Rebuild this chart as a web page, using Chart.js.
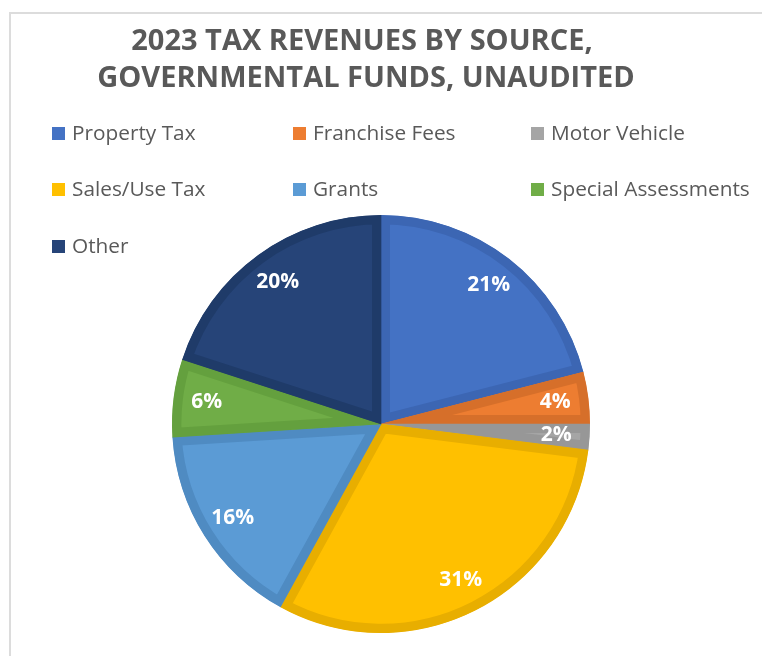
<!DOCTYPE html>
<html>
<head>
<meta charset="utf-8">
<script src="https://cdn.jsdelivr.net/npm/chart.js@4/dist/chart.umd.min.js"></script>
<style>
  html, body { margin: 0; padding: 0; background: #ffffff; }
  #wrap { position: relative; width: 762px; height: 656px; overflow: hidden; }
  #frame { position: absolute; left: 9px; top: 12px; width: 800px; height: 700px;
           border-left: 2px solid #dcdcdc; border-top: 2px solid #dcdcdc; box-sizing: border-box; }
  #chart { position: absolute; left: 0; top: 0; }
</style>
</head>
<body>
<div id="wrap">
  <div id="frame"></div>
  <canvas id="chart" width="762" height="656"></canvas>
</div>
<script>
// Revenue sources and their share of 2023 governmental-fund tax revenue (percent)
const titleLines = ['2023 TAX REVENUES BY SOURCE,', 'GOVERNMENTAL FUNDS, UNAUDITED'];
const sources = ['Property Tax', 'Franchise Fees', 'Motor Vehicle', 'Sales/Use Tax', 'Grants', 'Special Assessments', 'Other'];
const shares = [21, 4, 2, 31, 16, 6, 20];
const fillColors = ['#4472C4', '#ED7D31', '#A5A5A5', '#FFC000', '#5B9BD5', '#70AD47', '#264478'];
const edgeColors = ['#3C66B3', '#D66F2A', '#979797', '#E8AE00', '#4F8BC2', '#64A03E', '#1F3B69'];

const FONT = '"Open Sans", "DejaVu Sans", sans-serif';

// Title and three-column legend drawn on the canvas
const headerPlugin = {
  id: 'header',
  afterDraw(chart) {
    const ctx = chart.ctx;
    ctx.save();
    ctx.fillStyle = '#595959';
    ctx.font = 'bold 29px ' + FONT;
    ctx.textAlign = 'center';
    ctx.textBaseline = 'alphabetic';
    ctx.fillText(titleLines[0], 362, 50);
    ctx.fillText(titleLines[1], 366, 87);

    const colX = [52, 293, 531];
    const rowY = [133, 189, 246];
    ctx.font = '20.8px ' + FONT;
    ctx.textAlign = 'left';
    ctx.textBaseline = 'middle';
    const ds = chart.data.datasets[0];
    chart.data.labels.forEach((label, i) => {
      const x = colX[i % 3];
      const y = rowY[Math.floor(i / 3)];
      ctx.fillStyle = ds.backgroundColor[i];
      ctx.fillRect(x, y - 6, 13, 13);
      ctx.fillStyle = '#595959';
      ctx.fillText(label, x + 20, y + 1);
    });
    ctx.restore();
  }
};

// Percentage labels placed inside each slice
const sliceLabels = {
  id: 'sliceLabels',
  afterDatasetsDraw(chart) {
    const ctx = chart.ctx;
    const meta = chart.getDatasetMeta(0);
    const values = chart.data.datasets[0].data;
    ctx.save();
    ctx.fillStyle = '#ffffff';
    ctx.font = 'bold 21px ' + FONT;
    ctx.textAlign = 'center';
    ctx.textBaseline = 'middle';
    meta.data.forEach((arc, i) => {
      const p = arc.getProps(['x', 'y', 'startAngle', 'endAngle', 'outerRadius'], true);
      const mid = (p.startAngle + p.endAngle) / 2;
      const r = p.outerRadius * 0.84;
      ctx.fillText(values[i] + '%', p.x + Math.cos(mid) * r, p.y + Math.sin(mid) * r);
    });
    ctx.restore();
  }
};

new Chart(document.getElementById('chart'), {
  type: 'pie',
  data: {
    labels: sources,
    datasets: [{
      data: shares,
      backgroundColor: fillColors,
      borderColor: edgeColors,
      hoverBackgroundColor: fillColors,
      hoverBorderColor: edgeColors,
      borderWidth: 9,
      hoverBorderWidth: 9,
      borderAlign: 'inner',
      hoverOffset: 0
    }]
  },
  options: {
    responsive: false,
    animation: false,
    events: [],
    layout: { padding: { left: 172, right: 172, top: 215, bottom: 23 } },
    plugins: {
      legend: { display: false },
      title: { display: false },
      tooltip: { enabled: false }
    }
  },
  plugins: [headerPlugin, sliceLabels]
});
</script>
</body>
</html>
